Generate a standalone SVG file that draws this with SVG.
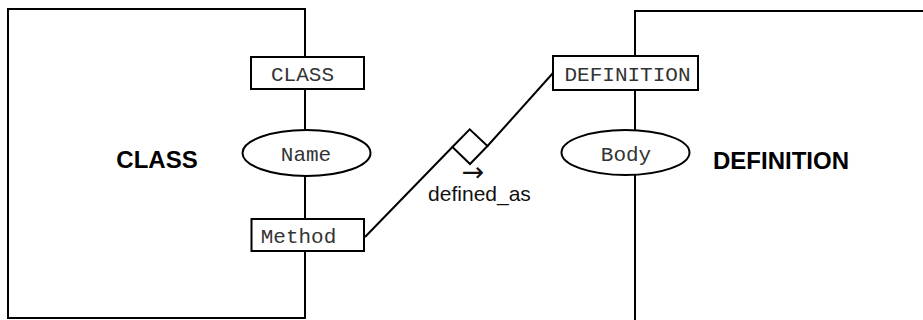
<svg xmlns="http://www.w3.org/2000/svg" width="923" height="320" viewBox="0 0 923 320">
<style>
.frame{fill:#fff;stroke:#000;stroke-width:2}
.shape{fill:#fff;stroke:#000;stroke-width:2}
.mono{font-family:"Liberation Mono","Courier New",monospace;font-size:21px;fill:#333;text-anchor:middle}
.title{font-family:"Liberation Sans",Arial,sans-serif;font-size:24px;font-weight:bold;fill:#000}
.label{font-family:"Liberation Sans",Arial,sans-serif;font-size:21px;fill:#111}
.arrow{font-family:"DejaVu Sans",sans-serif;font-size:27px;fill:#111;text-anchor:middle}
.conn{fill:none;stroke:#000;stroke-width:2}
</style>
<rect width="923" height="320" fill="#fff"/>
<g id="class">
<rect class="frame" x="8" y="9" width="297" height="309"/>
<text class="title" x="157" y="168" text-anchor="middle">CLASS</text>
</g>
<g id="definition">
<rect class="frame" x="635" y="11" width="400" height="400"/>
<text class="title" x="713" y="169">DEFINITION</text>
</g>
<g id="class-type">
<rect class="shape" x="251" y="57" width="113" height="32"/>
<text class="mono" x="302.5" y="81">CLASS</text>
</g>
<g id="class-name">
<ellipse class="shape" cx="306.5" cy="153" rx="64" ry="23"/>
<text class="mono" x="306" y="161">Name</text>
</g>
<g id="class-method">
<rect class="shape" x="251.5" y="219" width="112.5" height="32"/>
<text class="mono" x="298.5" y="243">Method</text>
</g>
<g id="definition-type">
<rect class="shape" x="553" y="56" width="145" height="34"/>
<text class="mono" x="627.5" y="81">DEFINITION</text>
</g>
<g id="definition-body">
<ellipse class="shape" cx="625.5" cy="152.5" rx="64" ry="22.5"/>
<text class="mono" x="626" y="161">Body</text>
</g>
<g id="connectors">
<polyline class="conn" points="365,237 452.4,147"/>
<polyline class="conn" points="487.5,146 553,73"/>
<polygon class="shape" points="452.4,147 469.7,129.3 487.5,146 470,164"/>
<text class="arrow" x="473" y="181">→</text>
<text class="label" x="479.5" y="200.5" text-anchor="middle">defined_as</text>
</g>
</svg>
